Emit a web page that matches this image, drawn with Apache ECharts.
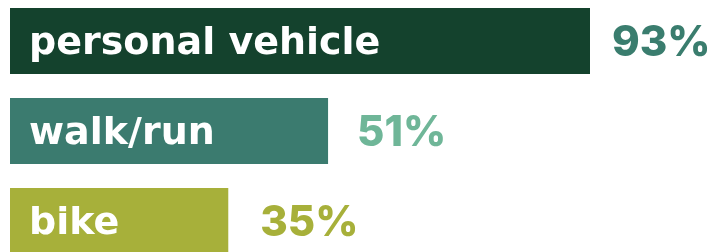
<!DOCTYPE html>
<html>
<head>
<meta charset="utf-8">
<script src="https://cdn.jsdelivr.net/npm/echarts@6/dist/echarts.min.js"></script>
<style>
  html, body { margin: 0; padding: 0; background: #ffffff; }
  #chart { width: 710px; height: 252px; }
</style>
</head>
<body>
<div id="chart"></div>
<script>
/* global echarts */

// 数据
const MODES = ['personal vehicle', 'walk/run', 'bike'];
const SHARES = [93, 51, 35];

// 配色：柱子 / 右侧数值
const BAR_COLORS = ['#14422d', '#3b7b6f', '#a7b03a'];
const VALUE_COLORS = ['#3a7d6e', '#6fb698', '#a7b03a'];
const VALUE_GAP = [22, 29, 32];

const VALUE_FONT = '"Inter", "Lato", "Noto Sans", sans-serif';
const NAME_FONT = '"DejaVu Sans", "Inter", sans-serif';

const chart = echarts.init(document.getElementById('chart'));

chart.setOption({
  animation: false,
  // boundaryGap:false 让三根柱子的中心落在 41 / 131 / 221
  grid: { left: 10, width: 580, top: 41, height: 180 },
  xAxis: {
    type: 'value',
    min: 0,
    max: 93,
    show: false,
  },
  yAxis: {
    type: 'category',
    data: MODES,
    inverse: true,
    boundaryGap: false,
    show: false,
  },
  series: [
    {
      // 柱子 + 柱内类别名
      type: 'bar',
      barWidth: 66,
      silent: true,
      data: SHARES.map((v, i) => ({
        value: v,
        itemStyle: { color: BAR_COLORS[i] },
      })),
      label: {
        show: true,
        position: 'insideLeft',
        distance: 19,
        offset: [0, 3],
        formatter: (p) => p.name,
        color: '#ffffff',
        fontFamily: NAME_FONT,
        fontWeight: 700,
        fontSize: 38,
      },
    },
    {
      // 透明叠加，只用来画右侧百分比
      type: 'bar',
      barWidth: 66,
      barGap: '-100%',
      silent: true,
      itemStyle: { color: 'transparent' },
      data: SHARES.map((v, i) => ({
        value: v,
        label: { color: VALUE_COLORS[i], distance: VALUE_GAP[i] },
      })),
      label: {
        show: true,
        position: 'right',
        offset: [0, 2],
        formatter: (p) => p.value + '%',
        fontFamily: VALUE_FONT,
        fontWeight: 800,
        fontSize: 42,
      },
    },
  ],
});
</script>
</body>
</html>
